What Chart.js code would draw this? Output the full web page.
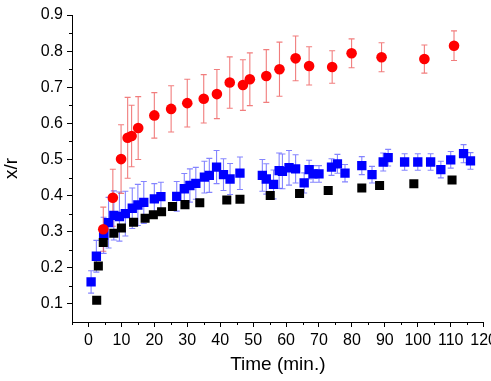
<!DOCTYPE html>
<html>
<head>
<meta charset="utf-8">
<script src="https://cdn.jsdelivr.net/npm/chart.js@4.4.1/dist/chart.umd.min.js"></script>
<style>
    html, body { margin: 0; padding: 0; background: #fff; overflow: hidden; }
    #wrap { width: 501px; height: 381px; }
</style>
</head>
<body>
<div id="wrap"><canvas id="canvas" width="501" height="381"></canvas></div>
<script>
// values
const redTime = [4.5, 7.4, 9.9, 11.9, 13.1, 15.1, 20, 25.1, 30, 35, 39, 42.9, 46.9, 49, 54, 58, 62.9, 67, 74, 79.9, 89, 102, 111];
const redValue = [0.307, 0.394, 0.501, 0.56, 0.565, 0.587, 0.622, 0.64, 0.656, 0.668, 0.681, 0.713, 0.706, 0.722, 0.731, 0.75, 0.78, 0.759, 0.756, 0.794, 0.783, 0.778, 0.815];
const redErr = [0.061, 0.079, 0.095, 0.112, 0.085, 0.087, 0.063, 0.064, 0.066, 0.067, 0.068, 0.071, 0.07, 0.073, 0.073, 0.075, 0.062, 0.053, 0.045, 0.04, 0.04, 0.039, 0.041];

const blueTime = [0.8, 2.4, 4.6, 6.1, 7.7, 9.4, 11.2, 13.3, 15.0, 16.8, 20, 22, 26.8, 29.1, 30.8, 32.6, 35.2, 36.7, 38.9, 41, 43, 46, 52.8, 54, 56.2, 57.9, 58.9, 60.9, 62.9, 65.5, 67, 68.2, 70, 73.8, 75.6, 77.9, 83, 86.1, 89.5, 91, 96, 100, 103.9, 107, 110, 113.9, 116];
const blueValue = [0.161, 0.232, 0.29, 0.325, 0.345, 0.342, 0.35, 0.365, 0.374, 0.381, 0.391, 0.397, 0.398, 0.419, 0.428, 0.434, 0.451, 0.456, 0.479, 0.458, 0.446, 0.462, 0.456, 0.446, 0.431, 0.469, 0.467, 0.477, 0.474, 0.435, 0.472, 0.46, 0.46, 0.479, 0.488, 0.462, 0.483, 0.458, 0.493, 0.505, 0.493, 0.493, 0.493, 0.472, 0.499, 0.516, 0.496];
const blueErr = [0.031, 0.044, 0.05, 0.07, 0.068, 0.068, 0.062, 0.056, 0.057, 0.058, 0.042, 0.04, 0.041, 0.042, 0.046, 0.044, 0.044, 0.047, 0.046, 0.044, 0.043, 0.045, 0.044, 0.042, 0.04, 0.049, 0.048, 0.048, 0.039, 0.028, 0.026, 0.023, 0.023, 0.023, 0.026, 0.024, 0.025, 0.023, 0.025, 0.023, 0.023, 0.023, 0.023, 0.023, 0.023, 0.025, 0.023];

const blackTime = [2.5, 3.0, 4.5, 7.7, 10.0, 13.7, 17.2, 19.7, 22.2, 25.5, 29.3, 33.8, 42.0, 46.0, 55.2, 64.1, 72.8, 83.0, 88.4, 98.8, 110.4];
const blackValue = [0.11, 0.205, 0.27, 0.296, 0.31, 0.326, 0.337, 0.347, 0.355, 0.37, 0.375, 0.38, 0.388, 0.39, 0.40, 0.406, 0.414, 0.421, 0.428, 0.433, 0.443];

const xTicks = [0, 10, 20, 30, 40, 50, 60, 70, 80, 90, 100, 110, 120];
const yTicks = [0.1, 0.2, 0.3, 0.4, 0.5, 0.6, 0.7, 0.8, 0.9];
const xMinor = [-5, 5, 15, 25, 35, 45, 55, 65, 75, 85, 95, 105, 115];
const yMinor = [0.15, 0.25, 0.35, 0.45, 0.55, 0.65, 0.75, 0.85];

const FONT = "'Liberation Sans', Arial, sans-serif";

function points(xs, ys) {
    return xs.map((x, i) => ({ x: x, y: ys[i] }));
}

// error bars, drawn under the markers
const errorBars = {
    id: 'errorBars',
    beforeDatasetsDraw(chart) {
        const ctx = chart.ctx;
        const xs = chart.scales.x, ys = chart.scales.y;
        const sets = [
            { t: blueTime, v: blueValue, e: blueErr, color: 'rgba(80, 80, 255, 0.7)' },
            { t: redTime, v: redValue, e: redErr, color: 'rgba(235, 70, 70, 0.7)' }
        ];
        ctx.save();
        ctx.lineWidth = 1.1;
        sets.forEach(s => {
            ctx.strokeStyle = s.color;
            s.t.forEach((t, i) => {
                const px = xs.getPixelForValue(t);
                const top = ys.getPixelForValue(s.v[i] + s.e[i]);
                const bot = ys.getPixelForValue(s.v[i] - s.e[i]);
                ctx.beginPath();
                ctx.moveTo(px, top); ctx.lineTo(px, bot);
                ctx.moveTo(px - 3, top); ctx.lineTo(px + 3, top);
                ctx.moveTo(px - 3, bot); ctx.lineTo(px + 3, bot);
                ctx.stroke();
            });
        });
        ctx.restore();
    }
};

// minor tick marks
const minorTicks = {
    id: 'minorTicks',
    afterDraw(chart) {
        const ctx = chart.ctx;
        const xs = chart.scales.x, ys = chart.scales.y;
        const area = chart.chartArea;
        ctx.save();
        ctx.strokeStyle = '#000';
        ctx.lineWidth = 1;
        ctx.beginPath();
        xMinor.forEach(v => {
            const px = Math.round(xs.getPixelForValue(v)) + 0.5;
            ctx.moveTo(px, area.bottom); ctx.lineTo(px, area.bottom + 3);
        });
        yMinor.forEach(v => {
            const py = Math.round(ys.getPixelForValue(v)) + 0.5;
            ctx.moveTo(area.left, py); ctx.lineTo(area.left - 3, py);
        });
        ctx.stroke();
        ctx.restore();
    }
};

const ctx = document.getElementById('canvas').getContext('2d');
const myChart = new Chart(ctx, {
    type: 'scatter',
    data: {
        datasets: [
            {
                label: 'red',
                data: points(redTime, redValue),
                pointStyle: 'circle',
                pointRadius: 5.3,
                backgroundColor: '#ff0000',
                borderColor: '#ff0000',
                borderWidth: 0
            },
            {
                label: 'black',
                data: points(blackTime, blackValue),
                pointStyle: 'rect',
                pointRadius: 6.4,
                backgroundColor: '#000000',
                borderColor: '#000000',
                borderWidth: 0
            },
            {
                label: 'blue',
                data: points(blueTime, blueValue),
                pointStyle: 'rect',
                pointRadius: 6.6,
                backgroundColor: '#0000ff',
                borderColor: '#0000ff',
                borderWidth: 0
            }
        ]
    },
    options: {
        responsive: false,
        animation: false,
        events: [],
        layout: { padding: { top: 15, right: 0, left: 0, bottom: 0 } },
        plugins: {
            legend: { display: false },
            tooltip: { enabled: false }
        },
        scales: {
            x: {
                type: 'linear',
                min: -5,
                max: 120,
                afterBuildTicks: s => { s.ticks = xTicks.map(v => ({ value: v })); },
                afterFit: s => { s.height = 59; },
                grid: { display: true, drawOnChartArea: false, drawTicks: true, tickLength: 5, color: '#000' },
                border: { display: true, color: '#000', width: 1 },
                ticks: {
                    autoSkip: false, maxRotation: 0, padding: 4, color: '#000',
                    font: { family: FONT, size: 16 }
                },
                title: {
                    display: true, text: 'Time (min.)', color: '#000',
                    font: { family: FONT, size: 19 }, padding: { top: 0, bottom: 5 }
                }
            },
            y: {
                type: 'linear',
                min: 0.05,
                max: 0.9,
                afterBuildTicks: s => { s.ticks = yTicks.map(v => ({ value: v })); },
                afterFit: s => { s.width = 72; },
                grid: { display: true, drawOnChartArea: false, drawTicks: true, tickLength: 5, color: '#000' },
                border: { display: true, color: '#000', width: 1 },
                ticks: {
                    padding: 4, color: '#000',
                    font: { family: FONT, size: 16 },
                    callback: v => v.toFixed(1)
                },
                title: {
                    display: true, text: 'x/r', color: '#000',
                    font: { family: FONT, size: 19 }, padding: { top: 0, bottom: 0 }
                }
            }
        }
    },
    plugins: [errorBars, minorTicks]
});
</script>
</body>
</html>
